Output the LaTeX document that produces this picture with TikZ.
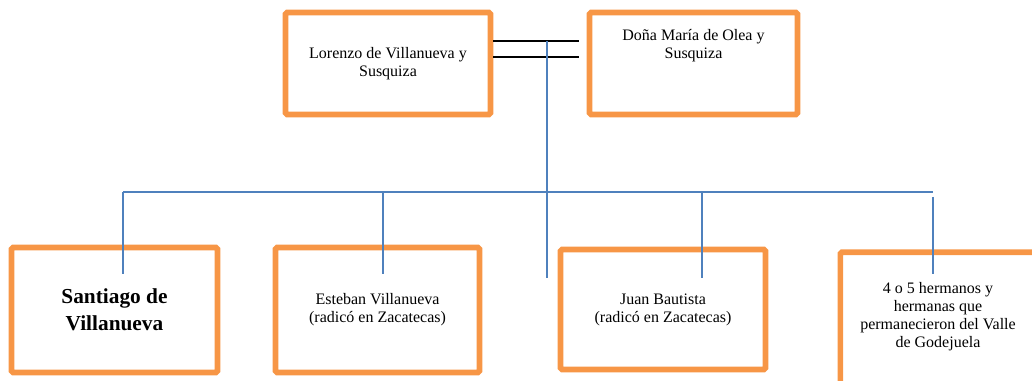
\documentclass[tikz,border=0pt]{standalone}
\usepackage{fontspec}
\setmainfont{Liberation Serif}
\definecolor{boxorange}{RGB}{247,150,70}
\definecolor{linkblue}{RGB}{79,129,189}
\tikzset{
  person/.style={draw=boxorange, line width=4.2pt, rounded corners=1.2pt, inner sep=0pt,
    align=center, font=\fontsize{12}{13.5}\selectfont},
  mainname/.style={font=\bfseries\fontsize{16}{20}\selectfont},
  link/.style={draw=linkblue, line width=0.9pt},
  marriage/.style={draw=black, line width=1.1pt}
}
\begin{document}
\begin{tikzpicture}[x=0.75pt,y=-0.75pt]
\useasboundingbox (0,0) rectangle (1032,381);
\clip (0,0) rectangle (1032,381);
% parents
\node[person, minimum width=205*0.75pt, minimum height=102*0.75pt] (lorenzo) at (388,63.5) {Lorenzo de Villanueva y\\Susquiza};
\node[person, minimum width=208*0.75pt, minimum height=102*0.75pt] (dona) at (693.5,63.5) {};
\node[align=center, font=\fontsize{12}{13.5}\selectfont] (donatext) at (693.5,46) {Doña María de Olea y\\Susquiza};
% children
\node[person, mainname, minimum width=206*0.75pt, minimum height=125*0.75pt] (santiago) at (114.5,310) {Santiago de\\Villanueva};
\node[person, minimum width=204*0.75pt, minimum height=125*0.75pt] (esteban) at (377.5,310) {Esteban Villanueva\\(radicó en Zacatecas)};
\node[person, minimum width=205*0.75pt, minimum height=120*0.75pt] (juan) at (663,309.5) {Juan Bautista\\(radicó en Zacatecas)};
\node[person, minimum width=210*0.75pt, minimum height=150*0.75pt, anchor=north west] (otros) at (837.5,249.5) {};
\node[align=center, font=\fontsize{12}{13.5}\selectfont] (otrostext) at (938,317) {4 o 5 hermanos y\\hermanas que\\permanecieron del Valle\\de Godejuela};
% marriage lines
\coordinate (w1) at (579,41);
\coordinate (w2) at (579,57);
\draw[marriage] (lorenzo.east |- w1) -- (w1);
\draw[marriage] (lorenzo.east |- w2) -- (w2);
% descent
\coordinate (top) at (547,41);
\coordinate (mid) at (547,278);
\coordinate (busL) at (123,192);
\coordinate (busR) at (933,192);
\draw[link] (top) -- (mid);
\draw[link] (busL) -- (busR);
\coordinate (s) at (123,274);
\coordinate (e) at (383,274);
\coordinate (j) at (702,278);
\coordinate (o1) at (933,197);
\coordinate (o2) at (933,274);
\draw[link] (busL) -- (s);
\draw[link] (e |- busL) -- (e);
\draw[link] (j |- busL) -- (j);
\draw[link] (o1) -- (o2);
\end{tikzpicture}
\end{document}
